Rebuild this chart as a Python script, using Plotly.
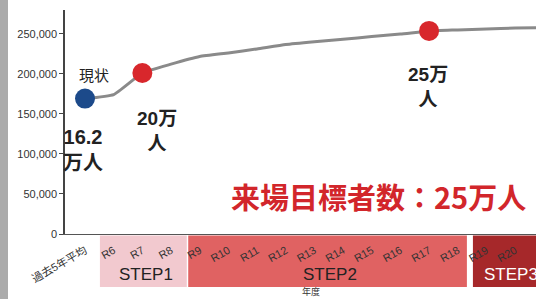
import plotly.graph_objects as go

# ---- data ----
categories = ["過去5年平均", "R6", "R7", "R8", "R9", "R10", "R11", "R12", "R13",
              "R14", "R15", "R16", "R17", "R18", "R19", "R20", "R21"]
visitors = [169000, 174000, 201000, 212000, 221500, 226000, 231000, 236500, 240000,
            243000, 246500, 249500, 253500, 254700, 256000, 257000, 257800]
highlight_idx = [0, 2, 12]
highlight_colors = ["#1c4a8a", "#d8272c", "#d8272c"]
y_ticks = [0, 50000, 100000, 150000, 200000, 250000]
steps = ["STEP1", "STEP2", "STEP3"]

# ---- geometry helpers (layout only) ----
W, H = 536, 299
L, T, B = 65, 10, 65
plot_h = H - T - B          # 224
x_per = 28.67               # px per category
def px_to_xd(px):
    return (px - 85) / x_per
def py_to_paper(py):
    return (234 - py) / plot_h
def py_to_yd(py):
    return (234 - py) / 0.000801

fig = go.Figure()

fig.add_trace(go.Scatter(
    x=categories, y=visitors, mode="lines",
    line=dict(color="#8a8a8a", width=3, shape="spline", smoothing=0.4),
    hoverinfo="skip", showlegend=False))

fig.add_trace(go.Scatter(
    x=[categories[i] for i in highlight_idx],
    y=[visitors[i] for i in highlight_idx],
    mode="markers",
    marker=dict(size=20, color=highlight_colors, line=dict(width=0)),
    showlegend=False))

# step bands under the x axis
band_specs = [(0.52, 3.55, "#f2c9cf"), (3.60, 13.32, "#e06262"), (13.53, 17, "#a6282a")]
shapes = []
for x0, x1, col in band_specs:
    shapes.append(dict(type="rect", xref="x", yref="paper", x0=x0, x1=x1,
                       y0=py_to_paper(235.5), y1=py_to_paper(287),
                       fillcolor=col, line=dict(width=0), layer="below"))
# left gray strip (scan border)
shapes.append(dict(type="rect", xref="paper", yref="paper",
                   x0=-L / 471, x1=(8 - L) / 471, y0=py_to_paper(H), y1=py_to_paper(0),
                   fillcolor="#ababab", line=dict(width=0), layer="below"))

jp = "Noto Sans CJK JP"
ann = []
ann.append(dict(text="現状", x=px_to_xd(94), y=py_to_yd(75), xref="x", yref="y",
                showarrow=False, font=dict(family=jp, size=15, color="#222")))
ann.append(dict(text="<b>16.2<br>万人</b>", x=px_to_xd(83), y=py_to_yd(150), xref="x", yref="y",
                showarrow=False, font=dict(family="Liberation Sans, " + jp, size=20, color="#222")))
ann.append(dict(text="<b>20万<br>人</b>", x=px_to_xd(157), y=py_to_yd(131), xref="x", yref="y",
                showarrow=False, font=dict(family="Liberation Sans, " + jp, size=19, color="#222")))
ann.append(dict(text="<b>25万<br>人</b>", x=px_to_xd(428), y=py_to_yd(87), xref="x", yref="y",
                showarrow=False, font=dict(family="Liberation Sans, " + jp, size=19, color="#222")))
ann.append(dict(text="<b>来場目標者数：25万人</b>", x=px_to_xd(378.5), y=py_to_yd(196), xref="x", yref="y",
                showarrow=False, font=dict(family=jp, size=29, color="#d2262b")))
# step labels
ann.append(dict(text=steps[0], x=px_to_xd(146), y=py_to_paper(286), xref="x", yref="paper",
                showarrow=False, font=dict(family="Liberation Sans", size=17, color="#222")))
ann.append(dict(text=steps[1], x=px_to_xd(330), y=py_to_paper(286), xref="x", yref="paper",
                showarrow=False, font=dict(family="Liberation Sans", size=17, color="#222")))
ann.append(dict(text=steps[2], x=px_to_xd(482), y=py_to_paper(286), xref="x", yref="paper",
                xanchor="left", showarrow=False,
                font=dict(family="Liberation Sans", size=17, color="#ffffff")))
ann.append(dict(text="年度", x=px_to_xd(311), y=py_to_paper(300), xref="x", yref="paper",
                showarrow=False, font=dict(family=jp, size=9, color="#333")))

fig.update_layout(
    width=W, height=H,
    margin=dict(l=L, r=0, t=T, b=B, pad=0),
    paper_bgcolor="white", plot_bgcolor="white",
    shapes=shapes, annotations=ann, showlegend=False,
    xaxis=dict(type="category", categoryorder="array", categoryarray=categories,
               range=[-0.698, 15.73], showline=True, linecolor="#555", linewidth=1,
               showgrid=False, zeroline=False, ticks="", tickangle=-30,
               ticklabelstandoff=5,
               tickfont=dict(family="Liberation Sans, " + jp, size=11, color="#333")),
    yaxis=dict(range=[0, 279600], tickvals=y_ticks, tickformat=",",
               showline=True, linecolor="#444", linewidth=1.5,
               ticks="outside", ticklen=4, tickcolor="#444",
               showgrid=False, zeroline=False,
               tickfont=dict(family="Liberation Sans", size=11, color="#333")),
)

fig.write_html("out.html", config={"displayModeBar": False},
               post_script="document.body.style.margin='0';")
